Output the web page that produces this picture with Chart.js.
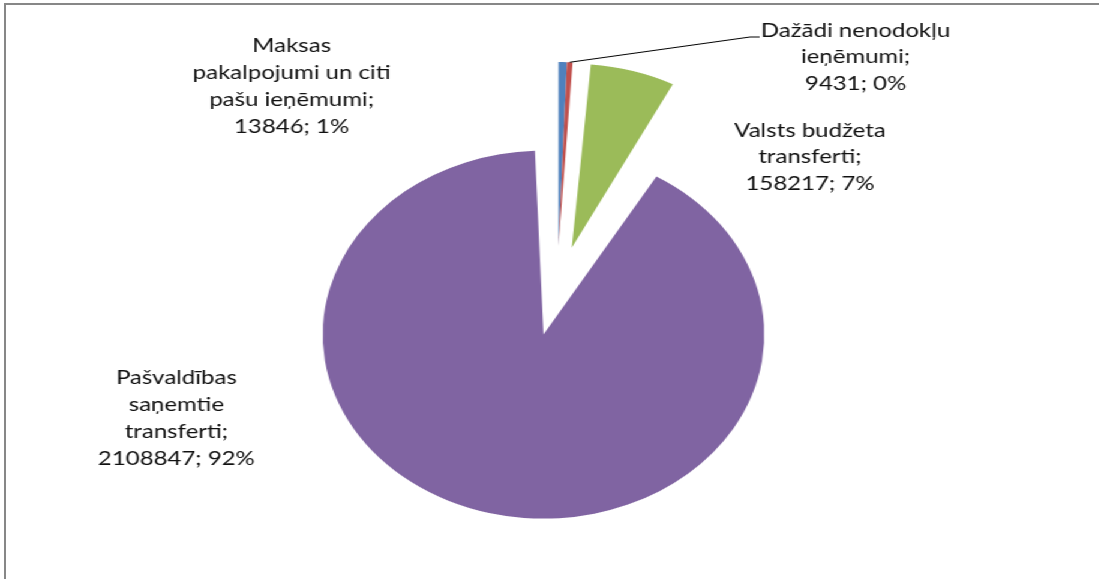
<!DOCTYPE html>
<html>
<head>
<meta charset="utf-8">
<script src="https://cdn.jsdelivr.net/npm/chart.js@4"></script>
<style>
    body { margin: 0; background: #fff; overflow: hidden; }
    #frame {
        position: absolute; left: 4px; top: 3px; width: 1300px; height: 800px;
        border-top: 2px solid #878787; border-left: 2px solid #878787;
    }
    /* the original picture is stretched sideways, so the pie is an ellipse */
    #wrap {
        position: absolute; left: 0; top: 0; width: 916px; height: 579px;
        transform: scaleX(1.2); transform-origin: 0 0;
    }
    .layer { position: absolute; left: 0; top: 0; width: 916px; height: 579px; }
</style>
</head>
<body>
<div id="frame"></div>
<div id="wrap">
    <div class="layer"><canvas id="bigSlices"></canvas></div>
    <div class="layer"><canvas id="smallSlices"></canvas></div>
</div>
<script>
// data
let categories = [
    "Maksas pakalpojumi un citi pašu ieņēmumi",
    "Dažādi nenodokļu ieņēmumi",
    "Valsts budžeta transferti",
    "Pašvaldības saņemtie transferti"
]
let values = [13846, 9431, 158217, 2108847]
let colors = ["#4F81BD", "#C0504D", "#9BBB59", "#8064A2"]

// how the category names wrap in the labels
let labelLines = [
    ["Maksas", "pakalpojumi un citi", "pašu ieņēmumi;"],
    ["Dažādi nenodokļu", "ieņēmumi;"],
    ["Valsts budžeta", "transferti;"],
    ["Pašvaldības", "saņemtie", "transferti;"]
]
// label block centres, relative to the pie centre
let labelOffsets = [[-221, -205], [249, -234], [211, -134], [-317, 127]]

const pieRadius = 184
const explode = 180          // chart.js moves a slice by offset / 4
const shift = explode / 4
const lineHeight = 26.7
const W = 916, H = 579
const padL = 12, padT = 3    // puts the pie centre where the original has it
const total = values.reduce((a, b) => a + b, 0)

function pct(v) {
    return Math.round(v / total * 100)
}

// chart.js 4.5 loses very thin slices when they get an offset, so the two
// thin ones go on a second layer whose centre is moved out instead
let thinMid = (values[0] + values[1]) / 2 / total * 2 * Math.PI
let thinDx = Math.sin(thinMid) * shift
let thinDy = -Math.cos(thinMid) * shift

// keep every slice the same size after chart.js grows the exploded ones
const evenRadius = {
    id: "evenRadius",
    afterDatasetsUpdate(chart) {
        chart.getDatasetMeta(0).data.forEach(arc => {
            let fix = 1 - Math.sin(Math.min(Math.PI, arc.circumference))
            arc.outerRadius = pieRadius - shift * fix
        })
    }
}

const sliceLabels = {
    id: "sliceLabels",
    afterDatasetsDraw(chart) {
        let ctx = chart.ctx
        let arcs = chart.getDatasetMeta(0).data
        let cx = arcs[0].x - thinDx
        let cy = arcs[0].y - thinDy
        ctx.save()
        ctx.font = "20px Lato"
        ctx.fillStyle = "#111"
        ctx.textAlign = "center"
        ctx.textBaseline = "middle"
        for (let i = 0; i < labelLines.length; i++) {
            let lines = labelLines[i].concat([values[i] + "; " + pct(values[i]) + "%"])
            let top = cy + labelOffsets[i][1] - (lines.length - 1) * lineHeight / 2
            for (let j = 0; j < lines.length; j++) {
                ctx.fillText(lines[j], cx + labelOffsets[i][0], top + j * lineHeight)
            }
        }

        // leader line from the small red slice to its label
        let red = arcs[1]
        let mid = (red.startAngle + red.endAngle) / 2
        let x0 = red.x + Math.cos(mid) * red.outerRadius
        let y0 = red.y + Math.sin(mid) * red.outerRadius
        let lx = cx + labelOffsets[1][0] - 80
        let ly = cy + labelOffsets[1][1] - 20
        ctx.strokeStyle = "#000"
        ctx.lineWidth = 1
        ctx.beginPath()
        ctx.moveTo(x0, y0)
        ctx.lineTo(lx - 8, ly)
        ctx.lineTo(lx, ly)
        ctx.stroke()
        ctx.restore()
    }
}

function baseOptions(padding) {
    return {
        responsive: true,
        maintainAspectRatio: false,
        animation: false,
        radius: pieRadius,
        layout: { padding: padding },
        plugins: {
            legend: { display: false },
            tooltip: { enabled: false }
        }
    }
}

// green and purple, exploded by the library
new Chart(document.getElementById("bigSlices"), {
    type: "pie",
    data: {
        labels: categories,
        datasets: [{
            data: values,
            backgroundColor: colors.map((c, i) => i < 2 ? "rgba(0,0,0,0)" : c),
            borderWidth: 0,
            offset: values.map((v, i) => i < 2 ? 0 : explode),
            hoverOffset: 0
        }]
    },
    options: baseOptions({ left: padL, right: 0, top: padT, bottom: 0 }),
    plugins: [evenRadius]
})

// blue and red, pie centre moved out along their middle
let cx2 = (padL + W) / 2 + thinDx
let cy2 = (padT + H) / 2 + thinDy
new Chart(document.getElementById("smallSlices"), {
    type: "pie",
    data: {
        labels: categories,
        datasets: [{
            data: values,
            backgroundColor: colors.map((c, i) => i < 2 ? c : "rgba(0,0,0,0)"),
            borderWidth: 0,
            hoverOffset: 0
        }]
    },
    options: baseOptions({
        left: Math.max(2 * cx2 - W, 0), right: Math.max(W - 2 * cx2, 0),
        top: Math.max(2 * cy2 - H, 0), bottom: Math.max(H - 2 * cy2, 0)
    }),
    plugins: [sliceLabels]
})
</script>
</body>
</html>
